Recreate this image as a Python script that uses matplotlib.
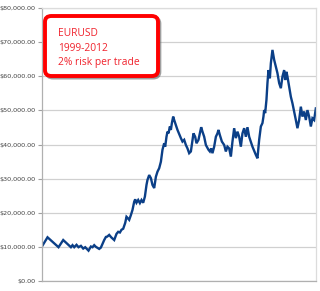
import matplotlib.pyplot as plt
from matplotlib.patches import FancyBboxPatch
from matplotlib.ticker import FuncFormatter

# trade number (position along the run) and account balance in dollars
trade = [0, 5.6, 16.6, 21.3, 29, 30.6, 32.3, 34.6, 36.6, 39, 41.3, 43.3, 46.6, 49, 50.6,
         52.3, 54, 57.3, 59, 62.3, 64, 65.3, 67.3, 69.3, 72.3, 74.6, 76.3, 78, 79.6, 81.3,
         83.3, 84.6, 85.6, 87.3, 89, 90.6, 92.3, 93.3, 94.6, 96.3, 98, 99.6, 101.3, 103,
         104.6, 105.6, 107.3, 109, 110.6, 112.3, 114, 115.6, 117.3, 119, 120.6, 122.3, 123.3,
         124.6, 125.6, 126.6, 128, 129, 130, 131.3, 132.3, 135.6, 139, 140.6, 142.3, 144,
         145.6, 147.3, 149, 150.6, 151.6, 153.3, 154.6, 156.6, 158, 159.3, 160.6, 162.3, 164,
         166.6, 168, 169.3, 170.6, 172.3, 174, 175.6, 176.6, 178, 180, 182.3, 184, 185.6,
         187.3, 189, 190.6, 192.3, 194, 195.6, 197.3, 199, 200.6, 202.3, 204, 205.6, 207.3,
         210.6, 214, 215.6, 217.3, 219, 220.6, 221.6, 222.3, 223.3, 224.6, 225.6, 226.6, 228,
         229, 230.6, 232.3, 234, 235.6, 237.3, 239, 240.6, 242.3, 243.3, 244.6, 245.6, 247.3,
         249, 250.6, 252.3, 254, 255.6, 257.3, 259, 260.6, 262.3, 264, 265.6, 267.3, 269,
         270.6, 272.3, 274]
balance = [10200, 12900, 10000, 12100, 10000, 10600, 10000, 10700, 10000, 10400, 9600,
           10000, 9000, 10200, 10000, 10600, 10100, 9500, 9900, 12100, 13000, 13100, 13600,
           12900, 12100, 13900, 14500, 14300, 15100, 15400, 17100, 18900, 18600, 18000,
           19400, 20900, 23300, 24000, 23000, 23800, 22900, 23800, 23000, 24800, 28200,
           29700, 31100, 30200, 28200, 27300, 30600, 32100, 33100, 35000, 38500, 40400,
           39400, 42300, 43800, 43300, 45300, 44300, 46300, 48200, 47200, 44300, 41900,
           40900, 41400, 39900, 38900, 37500, 38000, 41400, 43300, 42300, 40400, 41400,
           43300, 45100, 43800, 42300, 39900, 38500, 38000, 38900, 37500, 39400, 42300,
           43300, 44300, 42800, 40900, 39900, 38000, 39400, 38900, 36500, 40900, 44800,
           41900, 43800, 42300, 39400, 43300, 44800, 42300, 45100, 42300, 39400, 37000,
           36000, 41400, 45300, 46300, 48200, 50100, 49200, 53100, 58000, 61800, 59400,
           63800, 67700, 64800, 62800, 60900, 58000, 56500, 59900, 61800, 58900, 61300,
           59900, 57000, 54000, 52100, 49700, 47200, 44800, 47200, 51100, 48200, 49700,
           47200, 50100, 48200, 45300, 47700, 47200, 50600]
y_ticks = [0, 10000, 20000, 30000, 40000, 50000, 60000, 70000, 80000]
note_lines = ["EURUSD", "1999-2012", "2% risk per trade"]

fig = plt.figure(figsize=(3.2, 2.91), dpi=100)
ax = fig.add_axes([0.131, 0.033, 0.856, 0.94])

ax.plot(trade, balance, color='#0b3f87', lw=1.7, solid_joinstyle='miter')

ax.set_xlim(0, 274)
ax.set_ylim(0, 80000)
ax.set_yticks(y_ticks)
ax.yaxis.set_major_formatter(FuncFormatter(lambda v, p: '${:,.2f}'.format(v)))
ax.set_xticks([])
ax.grid(axis='y', color='#d0d0d0', lw=0.9)
ax.set_axisbelow(True)
ax.tick_params(axis='y', length=3, width=0.8, color='#a0a0a0', pad=1.5,
               labelsize=4.6, labelcolor='#404040')
for s in ['left', 'bottom']:
    ax.spines[s].set_color('#b0b0b0')
    ax.spines[s].set_linewidth(0.9)
for s in ['top', 'right']:
    ax.spines[s].set_color('#dcdcdc')
    ax.spines[s].set_linewidth(0.9)

# red annotation box with a soft shadow
box_x, box_y, box_w, box_h = 45 / 320, 1 - 76 / 291, 113 / 320, 60 / 291
sh = FancyBboxPatch((box_x + 0.005, box_y - 0.006), box_w, box_h,
                    boxstyle='round,pad=0,rounding_size=0.02', transform=fig.transFigure,
                    fc='#606060', ec='#606060', lw=2.5, alpha=0.6, zorder=4)
fig.patches.append(sh)
bx = FancyBboxPatch((box_x, box_y), box_w, box_h,
                    boxstyle='round,pad=0,rounding_size=0.02', transform=fig.transFigure,
                    fc='white', ec='#ff0000', lw=2.8, zorder=5)
fig.patches.append(bx)
for i, line in enumerate(note_lines):
    fig.text(58 / 320, 1 - (36 + i * 14.5) / 291, line, color='#f0232d', fontsize=7.4,
             family='Open Sans', zorder=6, va='baseline')

fig.savefig('out.png', dpi=100)
